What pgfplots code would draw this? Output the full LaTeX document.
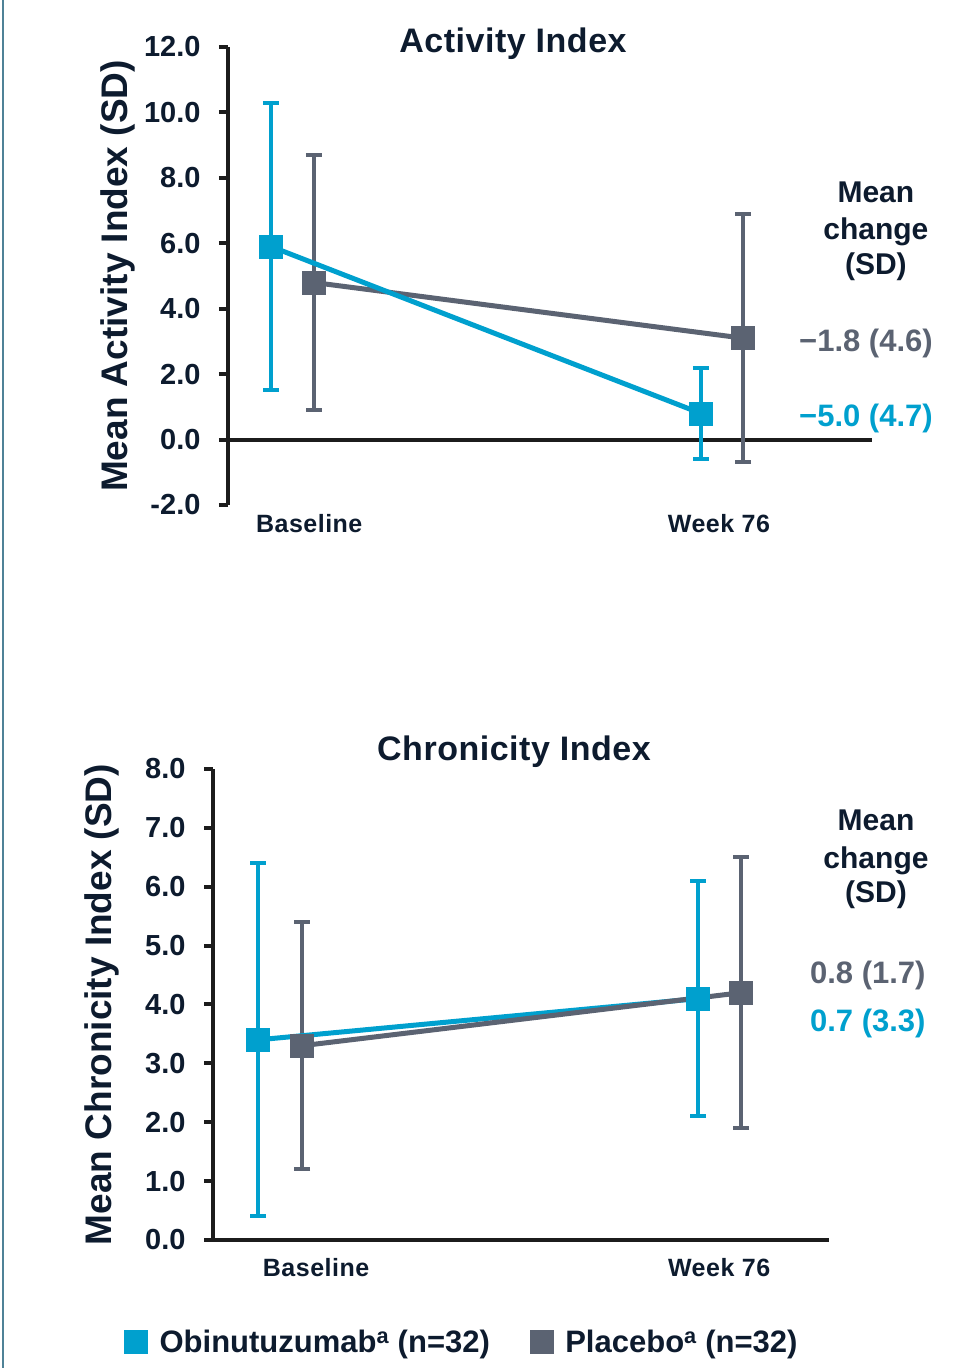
\documentclass[border=0pt]{standalone}
\usepackage{fontspec}
\setmainfont{Liberation Sans}
\usepackage{pgfplots}
\pgfplotsset{compat=1.18}
\definecolor{obi}{HTML}{00A0CE}
\definecolor{pla}{HTML}{5B6372}
\definecolor{txt}{HTML}{0D1B2E}
\definecolor{axl}{HTML}{1C1C1C}
\definecolor{frame}{HTML}{4F8297}
\newcommand{\fs}[1]{\fontsize{#1}{1.2\dimexpr#1pt\relax}\selectfont\bfseries}
\pgfplotsset{
 common/.style={
   scale only axis,
   axis y line*=left,
   axis x line*=bottom,
   axis line style={axl, line width=4pt, -},
   tick align=outside,
   major tick length=9pt,
   ytick style={axl, line width=4pt},
   xtick style={draw=none},
   clip=false,
   yticklabel style={font=\fs{29}, text=txt, xshift=-15pt},
   xticklabel style={font=\fs{25}\addfontfeature{LetterSpace=2}, text=txt},
   every axis title/.style={font=\fs{34}\addfontfeature{LetterSpace=1.5}, text=txt, anchor=base},
 },
 ebar/.style={draw=none, mark=none, forget plot,
   error bars/y dir=both, error bars/y explicit,
   error bars/error bar style={line width=4pt, color=#1, solid},
   error bars/error mark options={rotate=90, line width=4pt, mark size=8pt, color=#1}},
 ser/.style={line width=5pt, mark=square*, mark size=11.5pt, mark options={solid, line width=0.5pt, fill=#1, draw=#1}, color=#1},
}
\begin{document}
\begin{tikzpicture}
\useasboundingbox (0pt,0pt) rectangle (967pt,1368pt);
\fill[white] (0pt,0pt) rectangle (967pt,1368pt);
\draw[frame, line width=2.5pt] (3pt,0pt) -- (3pt,1368pt);
% ---------------- Activity Index ----------------
\begin{axis}[common,
  at={(228pt,863pt)}, anchor=south west, width=644pt, height=458pt,
  xmin=0.851, xmax=2.349, ymin=-2, ymax=12,
  x axis line style={draw=none},
  ytick={-2,0,2,4,6,8,10,12},
  yticklabels={-2.0,0.0,2.0,4.0,6.0,8.0,10.0,12.0},
  xtick={1.04,1.993}, xticklabels={Baseline,Week 76},
  xticklabel style={yshift=3pt},
  ylabel={Mean Activity Index (SD)},
  every axis y label/.style={at={(axis description cs:0,0.5)}, xshift=-110pt, rotate=90, anchor=center, font=\fs{37}, text=txt},
  title={Activity Index},
  title style={at={(axis description cs:0.4426,1)}, yshift=-6pt},
]
\draw[axl, line width=4pt] (axis cs:0.851,0) -- (axis cs:2.349,0);
\addplot[ebar=pla] coordinates {(1.051,4.8) +- (0,3.9) (2.049,3.1) +- (0,3.8)};
\addplot[ebar=obi] coordinates {(0.951,5.9) +- (0,4.4) (1.951,0.8) +- (0,1.4)};
\addplot[ser=pla] coordinates {(1.051,4.8) (2.049,3.1)};
\addplot[ser=obi] coordinates {(0.951,5.9) (1.951,0.8)};
\node[font=\fs{30}, text=txt, anchor=base] at (axis cs:2.358,7.245) {Mean};
\node[font=\fs{30}, text=txt, anchor=base] at (axis cs:2.358,6.11) {change};
\node[font=\fs{30}, text=txt, anchor=base] at (axis cs:2.358,5.04) {(SD)};
\node[font=\fs{31}, text=pla, anchor=base] at (axis cs:2.335,2.69) {−1.8 (4.6)};
\node[font=\fs{31}, text=obi, anchor=base] at (axis cs:2.335,0.39) {−5.0 (4.7)};
\end{axis}
% ---------------- Chronicity Index ----------------
\begin{axis}[common,
  at={(213pt,128pt)}, anchor=south west, width=616pt, height=471pt,
  xmin=0.8477, xmax=2.2477, ymin=0, ymax=8,
  ytick={0,1,2,3,4,5,6,7,8},
  yticklabels={0.0,1.0,2.0,3.0,4.0,5.0,6.0,7.0,8.0},
  xtick={1.082,1.998}, xticklabels={Baseline,Week 76},
  xticklabel style={yshift=-6pt},
  ylabel={Mean Chronicity Index (SD)},
  every axis y label/.style={at={(axis description cs:0,0.5)}, xshift=-111pt, rotate=90, anchor=center, font=\fs{37}, text=txt},
  title={Chronicity Index},
  title style={at={(axis description cs:0.4886,1)}, yshift=8pt},
  legend columns=2,
  legend style={at={(axis description cs:0.404,-0.2166)}, anchor=center, draw=none, fill=none,
    font=\fs{31}, text=txt, inner sep=0pt,
    /tikz/every odd column/.append style={column sep=10pt},
    /tikz/every even column/.append style={column sep=38pt}},
  legend cell align=left,
]
\addplot[ebar=obi] coordinates {(0.95,3.4) +- (0,3.0) (1.95,4.1) +- (0,2.0)};
\addplot[ebar=pla] coordinates {(1.05,3.3) +- (0,2.1) (2.048,4.2) +- (0,2.3)};
\addplot[ser=obi, forget plot] coordinates {(0.95,3.4) (1.95,4.1)};
\addplot[ser=pla, forget plot] coordinates {(1.05,3.3) (2.048,4.2)};
\addlegendimage{legend image code/.code={\fill[obi] (0pt,-11.5pt) rectangle (23pt,11.5pt);}}
\addlegendentry{Obinutuzumab\textsuperscript{a} (n=32)}
\addlegendimage{legend image code/.code={\fill[pla] (0pt,-11.5pt) rectangle (23pt,11.5pt);}}
\addlegendentry{Placebo\textsuperscript{a} (n=32)}
\node[font=\fs{30}, text=txt, anchor=base] at (axis cs:2.3545,6.947) {Mean};
\node[font=\fs{30}, text=txt, anchor=base] at (axis cs:2.3545,6.318) {change};
\node[font=\fs{30}, text=txt, anchor=base] at (axis cs:2.3545,5.724) {(SD)};
\node[font=\fs{31}, text=pla, anchor=base] at (axis cs:2.336,4.365) {0.8 (1.7)};
\node[font=\fs{31}, text=obi, anchor=base] at (axis cs:2.336,3.533) {0.7 (3.3)};
\end{axis}
\end{tikzpicture}
\end{document}
